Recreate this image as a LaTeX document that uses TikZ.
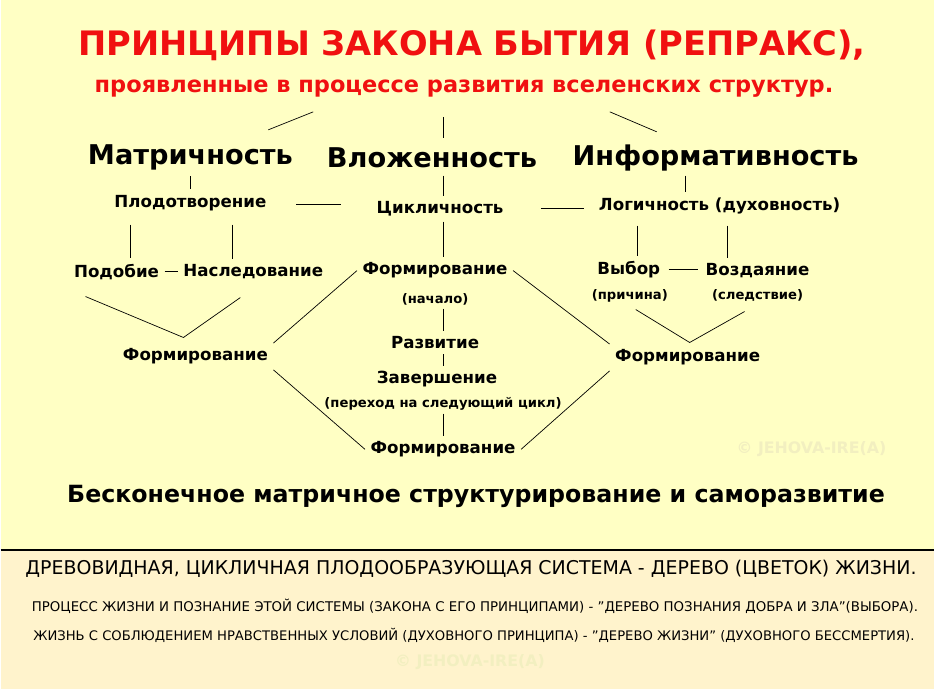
\documentclass[tikz,border=0pt]{standalone}
\usepackage{fontspec}
\setmainfont{DejaVu Sans}
\usetikzlibrary{positioning}
\definecolor{bgtop}{HTML}{FFFFC4}
\definecolor{bgbot}{HTML}{FFF3CC}
\definecolor{titlered}{HTML}{F01010}
\definecolor{wmark}{HTML}{F2EFC0}

\begin{document}
\begin{tikzpicture}[x=0.02cm, y=-0.02cm,
    lbl/.style={font=\bfseries\fontsize{9.5}{11}\selectfont, inner sep=3pt},
    sub/.style={font=\bfseries\fontsize{7.5}{9}\selectfont, inner sep=2pt},
    head/.style={font=\bfseries\fontsize{15.5}{18}\selectfont, inner sep=3pt},
    wm/.style={font=\bfseries\fontsize{9}{11}\selectfont, text=wmark},
    link/.style={thin, black}
]

%% Background
\fill[bgtop] (0,0) rectangle (935,551);
\fill[bgbot] (0,551) rectangle (935,690);
\draw[thick] (0,551) -- (935,551);
\useasboundingbox (0,0) rectangle (935,690);

%% Title
\node [font=\bfseries\fontsize{19.2}{22}\selectfont, text=titlered] (title) at (472,45) {ПРИНЦИПЫ ЗАКОНА БЫТИЯ (РЕПРАКС),};
\node [font=\bfseries\fontsize{12.8}{15}\selectfont, text=titlered] (subtitle) at (464,89) {проявленные в процессе развития вселенских структур.};

%% Principles
\node [head] (matr) at (190,158) {Матричность};
\node [head] (vlozh) at (432,158) {Вложенность};
\node [head] (inform) at (716,158) {Информативность};

\node [lbl] (plod) at (190,203) {Плодотворение};
\node [lbl] (cikl) at (440,209) {Цикличность};
\node [lbl] (logic) at (720,206) {Логичность (духовность)};

\node [lbl] (podob) at (116,272) {Подобие};
\node [lbl] (nasled) at (253,272) {Наследование};
\node [lbl] (formN) at (435,271) {Формирование};
\node [sub] (nachalo) [below = 3pt of formN] {(начало)};
\node [lbl] (vybor) at (629,270) {Выбор};
\node [lbl] (vozd) at (758,271) {Воздаяние};
\node [sub] (prich) at (630,296) {(причина)};
\node [sub] (sled) at (758,296) {(следствие)};

\node [lbl] (formL) at (195,357) {Формирование};
\node [lbl] (formR) at (688,358) {Формирование};
\node [lbl] (razv) at (435,343) {Развитие};
\node [lbl] (zaversh) at (437,380) {Завершение};
\node [sub] (perehod) at (443,404) {(переход на следующий цикл)};
\node [lbl] (formB) at (443,450) {Формирование};

\node [wm] (wm1) at (812,450) {© JEHOVA-IRE(A)};

\node [font=\bfseries\fontsize{13.5}{16}\selectfont] (bottom) at (476,497) {Бесконечное матричное структурирование и саморазвитие};

%% Notes
\node [font=\fontsize{10.8}{12}\selectfont] (note1) at (471,570) {ДРЕВОВИДНАЯ, ЦИКЛИЧНАЯ ПЛОДООБРАЗУЮЩАЯ СИСТЕМА - ДЕРЕВО (ЦВЕТОК) ЖИЗНИ.};
\node [font=\fontsize{7.6}{9}\selectfont] (note2) at (475,607) {ПРОЦЕСС ЖИЗНИ И ПОЗНАНИЕ ЭТОЙ СИСТЕМЫ (ЗАКОНА С ЕГО ПРИНЦИПАМИ) - "ДЕРЕВО ПОЗНАНИЯ ДОБРА И ЗЛА"(ВЫБОРА).};
\node [font=\fontsize{7.5}{9}\selectfont] (note3) at (474,636) {ЖИЗНЬ С СОБЛЮДЕНИЕМ НРАВСТВЕННЫХ УСЛОВИЙ (ДУХОВНОГО ПРИНЦИПА) - "ДЕРЕВО ЖИЗНИ" (ДУХОВНОГО БЕССМЕРТИЯ).};
\node [wm] (wm2) at (470,663) {© JEHOVA-IRE(A)};

%% Links
\coordinate (vL) at (183,338);
\coordinate (vR) at (690,343);
\draw [link] (268,130) -- (313,112);
\draw [link] (443,117) -- (443,138);
\draw [link] (610,112) -- (657,132);

\draw [link] (matr.south) -- (plod.north);
\draw [link] (443,176) -- (cikl.north -| 443,0);
\draw [link] (686,176) -- (logic.north -| 686,0);
\draw [link] (296,205) -- (341,205);
\draw [link] (541,209) -- (584,209);

\draw [link] (130,225) -- (podob.north -| 130,0);
\draw [link] (232,225) -- (nasled.north -| 232,0);
\draw [link] (podob.east) -- (nasled.west);
\draw [link] (cikl.south -| 443,0) -- (formN.north -| 443,0);
\draw [link] (638,226) -- (vybor.north -| 638,0);
\draw [link] (728,226) -- (vozd.north -| 728,0);
\draw [link] (669,270) -- (698,270);

\draw [link] (85,297) -- (vL) -- (240,298);
\draw [link] (636,310) -- (vR) -- (745,312);

\draw [link] (formL.north east) -- (formN.west);
\draw [link] (formN.east) -- (formR.north west);
\draw [link] (formL.south east) -- (formB.west);
\draw [link] (formB.east) -- (formR.south west);

\draw [link] (nachalo.south -| 443,0) -- (razv.north -| 443,0);
\draw [link] (razv.south -| 443,0) -- (zaversh.north -| 443,0);
\draw [link] (perehod.south) -- (formB.north);
\end{tikzpicture}
\end{document}
